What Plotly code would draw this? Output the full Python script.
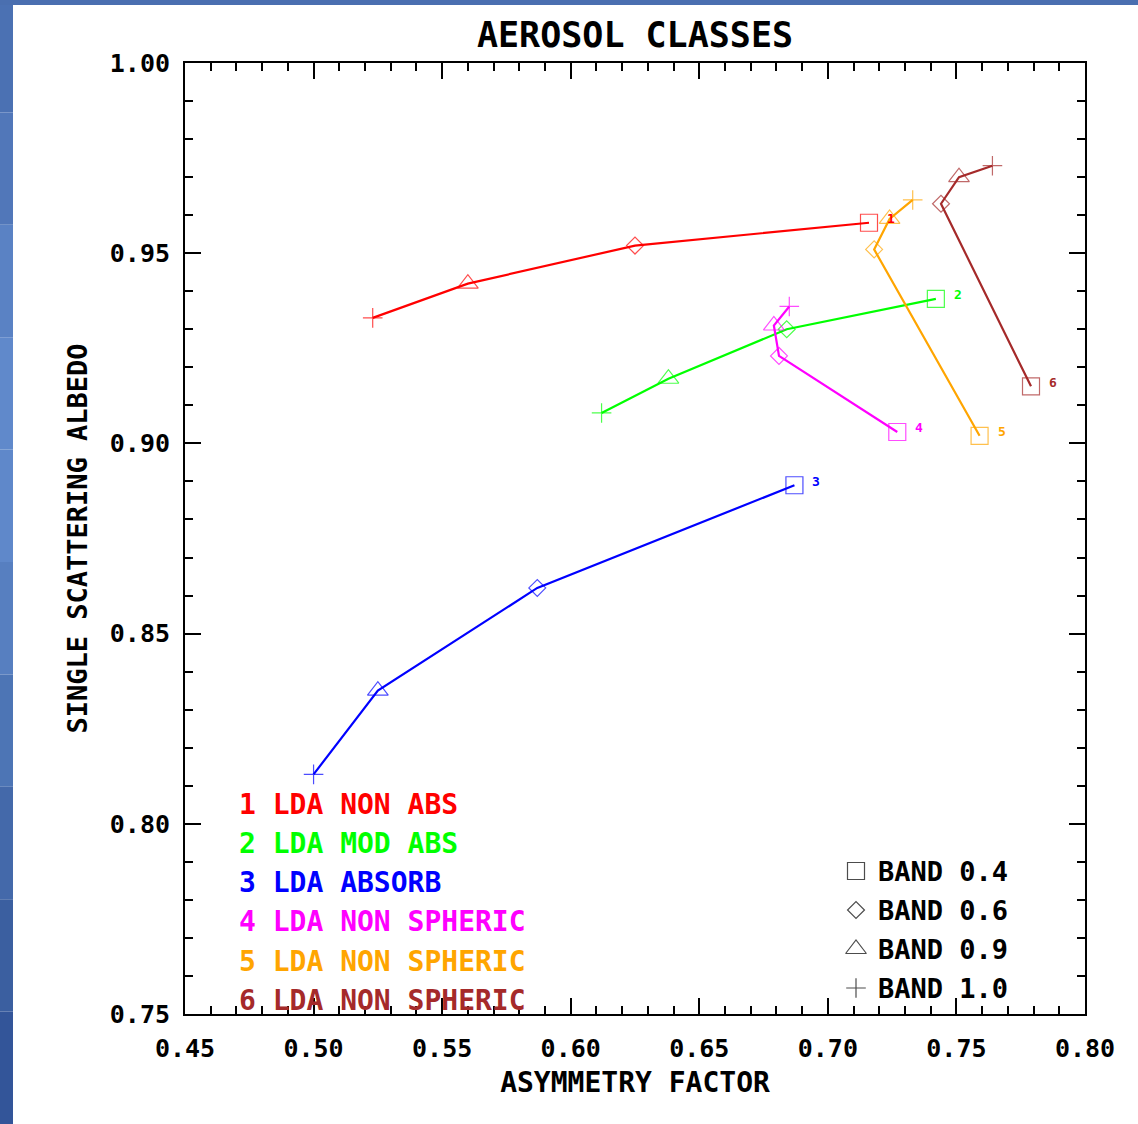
import plotly.graph_objects as go

# ---------------- data ----------------
series_names = ["1 LDA NON ABS", "2 LDA MOD ABS", "3 LDA ABSORB",
                "4 LDA NON SPHERIC", "5 LDA NON SPHERIC", "6 LDA NON SPHERIC"]
series_ids = ["1", "2", "3", "4", "5", "6"]
series_colors = ["#ff0000", "#00ff00", "#0000ff", "#ff00ff", "#ffa500", "#a52a2a"]
bands = ["BAND 1.0", "BAND 0.9", "BAND 0.6", "BAND 0.4"]

# asymmetry factor, order: band 1.0, 0.9, 0.6, 0.4
g1 = [0.523, 0.560, 0.625, 0.716]
g2 = [0.612, 0.638, 0.684, 0.742]
g3 = [0.500, 0.525, 0.587, 0.687]
g4 = [0.685, 0.679, 0.681, 0.727]
g5 = [0.733, 0.724, 0.718, 0.759]
g6 = [0.764, 0.751, 0.744, 0.779]
# single scattering albedo
w1 = [0.933, 0.942, 0.952, 0.958]
w2 = [0.908, 0.917, 0.930, 0.938]
w3 = [0.813, 0.835, 0.862, 0.889]
w4 = [0.936, 0.931, 0.923, 0.903]
w5 = [0.964, 0.959, 0.951, 0.902]
w6 = [0.973, 0.970, 0.963, 0.915]

gs = [g1, g2, g3, g4, g5, g6]
ws = [w1, w2, w3, w4, w5, w6]

x_ticks = [0.45, 0.50, 0.55, 0.60, 0.65, 0.70, 0.75, 0.80]
y_ticks = [0.75, 0.80, 0.85, 0.90, 0.95, 1.00]

# ---------------- style ----------------
W, H = 1138, 1124
L, R, T, B = 185, 53, 63, 110
PW, PH = W - L - R, H - T - B
FONT = "DejaVu Sans Mono"
symbols = ["cross-thin-open", "triangle-up-open", "diamond-open", "square-open"]
sizes = [14, 18, 13, 17]


def px2x(px):
    return (px - L) / PW


def py2y(py):
    return (H - B - py) / PH


fig = go.Figure()

for name, sid, col, g, w in zip(series_names, series_ids, series_colors, gs, ws):
    fig.add_trace(go.Scatter(
        x=g, y=w, mode="lines+markers", name=name, showlegend=False,
        line=dict(color=col, width=2.2),
        marker=dict(symbol=symbols, size=sizes, color=col,
                    line=dict(color=col, width=1.2)),
    ))
    fig.add_annotation(x=g[-1], y=w[-1], text="<b>" + sid + "</b>", showarrow=False,
                       xshift=22, yshift=4, font=dict(family=FONT, size=13, color=col))

# colored class legend (text)
leg_y = [804, 843, 882, 921, 961, 1000]
for name, col, py in zip(series_names, series_colors, leg_y):
    fig.add_annotation(xref="paper", yref="paper", x=px2x(237), y=py2y(py),
                       xanchor="left", yanchor="middle", showarrow=False,
                       text="<b>" + name + "</b>",
                       font=dict(family=FONT, size=28, color=col))

# band legend: symbols on a hidden overlay axis + text
band_y = [988, 949, 910, 871]
fig.add_trace(go.Scatter(
    x=[px2x(856)] * 4, y=[py2y(p) for p in band_y], mode="markers",
    xaxis="x2", yaxis="y2", showlegend=False, hoverinfo="skip",
    marker=dict(symbol=symbols, size=sizes, color="black",
                line=dict(color="black", width=1.2)),
))
for b, py in zip(bands, band_y):
    fig.add_annotation(xref="paper", yref="paper", x=px2x(876), y=py2y(py),
                       xanchor="left", yanchor="middle", showarrow=False,
                       text="<b>" + b + "</b>",
                       font=dict(family=FONT, size=27, color="black"))

# blue frame around page (left and top)
left_cols = ["#4b71b3", "#5177b9", "#5a82c4", "#6089cb", "#5f88ca", "#577fc0",
             "#4d75b5", "#4469aa", "#3b5fa0", "#335599"]
n = len(left_cols)
for i, c in enumerate(left_cols):
    y0 = py2y(H * (i + 1) / n)
    y1 = py2y(H * i / n)
    fig.add_shape(type="rect", xref="paper", yref="paper", x0=px2x(0), x1=px2x(13),
                  y0=y0, y1=y1, fillcolor=c, line=dict(width=0), layer="below")
fig.add_shape(type="rect", xref="paper", yref="paper", x0=px2x(0), x1=px2x(W),
              y0=py2y(5), y1=py2y(0), fillcolor="#4a6fb0", line=dict(width=0), layer="below")

axis_common = dict(
    showgrid=False, zeroline=False, showline=True, linecolor="black", linewidth=2,
    mirror="ticks", ticks="inside", ticklen=16, tickwidth=2, tickcolor="black",
    tickfont=dict(family=FONT, size=25, color="black", weight="bold"),
)

fig.update_layout(
    width=W, height=H,
    margin=dict(l=L, r=R, t=T, b=B),
    paper_bgcolor="white", plot_bgcolor="white",
    title=dict(text="<b>AEROSOL CLASSES</b>", x=(L + PW / 2) / W, xanchor="center",
               y=1 - 35 / H, yanchor="middle",
               font=dict(family=FONT, size=35, color="black")),
    xaxis=dict(range=[0.45, 0.80], tickvals=x_ticks,
               ticktext=["%.2f" % v for v in x_ticks],
               minor=dict(dtick=0.01, tick0=0.45, ticks="inside", ticklen=8,
                          tickwidth=2, tickcolor="black"),
               ticklabelstandoff=11,
               title=dict(text="<b>ASYMMETRY FACTOR</b>", standoff=10,
                          font=dict(family=FONT, size=28, color="black")),
               **axis_common),
    yaxis=dict(range=[0.75, 1.00], tickvals=y_ticks,
               ticktext=["%.2f" % v for v in y_ticks],
               minor=dict(dtick=0.01, tick0=0.75, ticks="inside", ticklen=8,
                          tickwidth=2, tickcolor="black"),
               ticklabelstandoff=8,
               title=dict(text="<b>SINGLE SCATTERING ALBEDO</b>", standoff=14,
                          font=dict(family=FONT, size=27, color="black")),
               **axis_common),
    xaxis2=dict(range=[0, 1], overlaying="x", visible=False, fixedrange=True),
    yaxis2=dict(range=[0, 1], overlaying="y", visible=False, fixedrange=True),
)

fig.write_html("out.html")
